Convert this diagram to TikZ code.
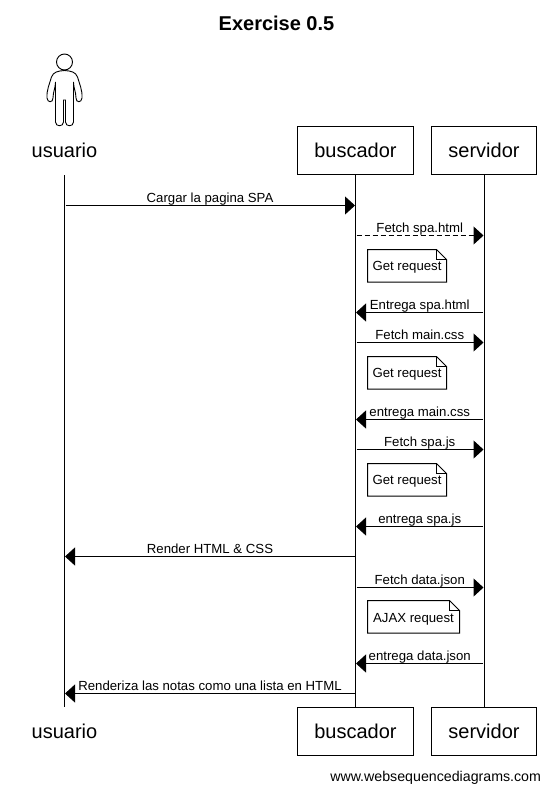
\documentclass[tikz,border=0pt]{standalone}
\usepackage{fontspec}
\setmainfont{Liberation Sans}
\usetikzlibrary{arrows.meta}
\begin{document}
\begin{tikzpicture}[x=1pt, y=-1pt, line width=1pt, >={Triangle[length=10pt,width=18pt]}]
	\tikzstyle{actor} = [rectangle, minimum height=48.5pt, inner sep=0pt, font=\fontsize{20}{24}\selectfont]
	\tikzstyle{box} = [actor, draw=black]
	\tikzstyle{lbl} = [midway, anchor=base, yshift=3.5pt, inner sep=0pt, font=\fontsize{13.2}{15}\selectfont]
	\tikzstyle{msg} = [->, shorten >=0.5pt, shorten <=1pt]
	\tikzstyle{notetext} = [anchor=base, inner sep=0pt, font=\fontsize{13.2}{15}\selectfont]
	\useasboundingbox (0,0) rectangle (551,790);
	\node (title) [anchor=base, inner sep=0pt, font=\fontsize{20}{24}\selectfont\bfseries] at (276.5,30) {Exercise 0.5};
	\node (usuarioT) [actor, minimum width=60pt] at (64.5,150.5) {usuario};
	\node (buscadorT) [box, minimum width=116pt] at (355.5,150.5) {buscador};
	\node (servidorT) [box, minimum width=105.5pt] at (484,150.5) {servidor};
	\node (usuarioB) [actor, minimum width=60pt] at (64.5,731.5) {usuario};
	\node (buscadorB) [box, minimum width=116pt] at (355.5,731.5) {buscador};
	\node (servidorB) [box, minimum width=105.5pt] at (484,731.5) {servidor};
	\node (url) [anchor=base east, inner sep=0pt, font=\fontsize{14.2}{18}\selectfont] at (541.5,781) {www.websequencediagrams.com};
	\foreach \a in {usuario,buscador,servidor}
	\draw (\a T.south) -- (\a B.north);
	% stick figure
	\node (head) [circle, draw=black, line width=0.9pt, minimum size=16pt, inner sep=0pt] at (64.5,62) {};
	\draw[line width=0.9pt, xshift=-0.5pt] (65,70.5) .. controls (72,71) and (76,72) .. (78,77)
		.. controls (80,84) and (83,90) .. (82.5,98) .. controls (82,103) and (76.5,103) .. (76.5,98)
		.. controls (76.5,92) and (74,88) .. (74,82) -- (74,122) .. controls (74,127) and (66,127) .. (66,122)
		-- (66,100) -- (64,100) -- (64,122) .. controls (64,127) and (56,127) .. (56,122) -- (56,82)
		.. controls (56,88) and (53.5,92) .. (53.5,98) .. controls (53.5,103) and (48,103) .. (47.5,98)
		.. controls (47,90) and (50,84) .. (52,77) .. controls (54,72) and (58,71) .. (65,70.5);
	% rows of the messages
	\foreach \n/\y in {1/205.5,2/235.5,3/312.5,4/342.5,5/419.5,6/449.5,7/526.5,8/556.5,9/587.5,10/663.5,11/693.5}{
		\coordinate (u\n) at (64.5,\y);
		\coordinate (b\n) at (355.5,\y);
		\coordinate (s\n) at (484,\y);
	}
	\foreach \n/\from/\to/\txt in {1/u/b/Cargar la pagina SPA,3/s/b/Entrega spa.html,4/b/s/Fetch main.css,5/s/b/entrega main.css,6/b/s/Fetch spa.js,7/s/b/entrega spa.js,8/b/u/Render HTML \& CSS,9/b/s/Fetch data.json,10/s/b/entrega data.json,11/b/u/Renderiza las notas como una lista en HTML}
	\draw[msg] (\from\n) -- node[lbl] (m\n) {\txt} (\to\n);
	\draw[msg, dash pattern=on 5pt off 3pt] (b2) -- node[lbl] (m2) {Fetch spa.html} (s2);
	% notes
	\foreach \n/\y/\w/\txt/\dy in {1/249.5/79/Get request/20.5,2/356.5/79/Get request/20.5,3/463.5/79/Get request/20.5,4/600.5/92/AJAX request/21.5}{
		\draw (367.5,\y) -- ++(\w-10,0) -- ++(10,10) -- ++(0,22.5) -- ++(-\w,0) -- cycle;
		\draw (367.5+\w-10,\y) -- ++(0,10) -- ++(10,0);
		\node (note\n) [notetext] at (367.5+\w/2,\y+\dy) {\txt};
	}
\end{tikzpicture}
\end{document}
